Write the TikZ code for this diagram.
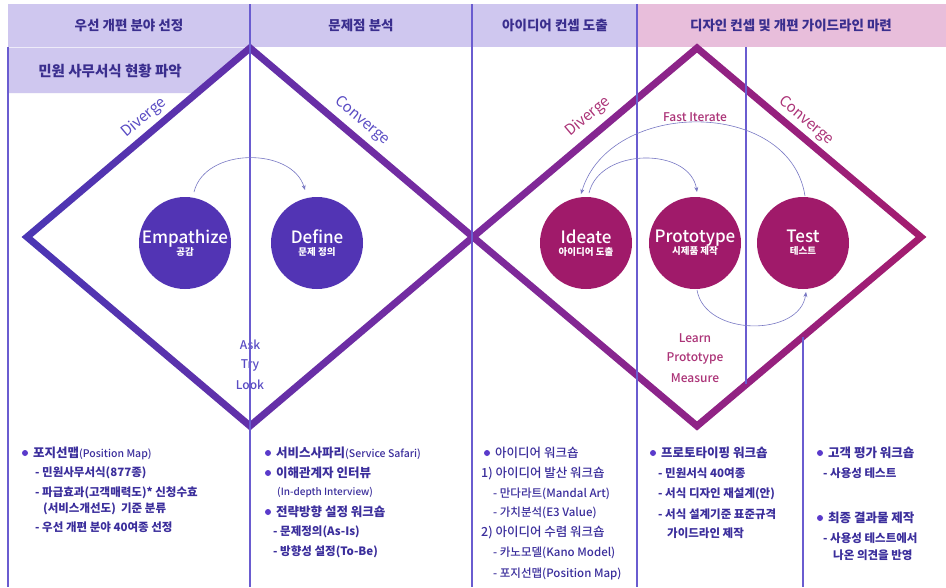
\documentclass[tikz,border=0pt]{standalone}
\usepackage{fontspec}
\setmainfont{Noto Sans CJK KR}
\newfontfamily\medf{Noto Sans CJK KR Medium}
\usetikzlibrary{arrows.meta}
\definecolor{hdrlav}{HTML}{CFC7EF}
\definecolor{hdrpink}{HTML}{E8BEDB}
\definecolor{hdrtext}{HTML}{3A2E8E}
\definecolor{lineind}{HTML}{6A5CD0}
\definecolor{dmA}{HTML}{4A36B4}
\definecolor{dmB}{HTML}{7A2A9E}
\definecolor{dmC}{HTML}{A41C6E}
\definecolor{circind}{HTML}{5234B4}
\definecolor{circmag}{HTML}{A01A6A}
\definecolor{arrowc}{HTML}{7878C4}
\definecolor{labind}{HTML}{5A4CC4}
\definecolor{labmag}{HTML}{AC3478}
\definecolor{bodyc}{HTML}{3B2E9C}
\definecolor{bulc}{HTML}{5A3ACB}
\begin{document}
\begin{tikzpicture}[x=1pt,y=-1pt,
  vline/.style={draw=lineind, line width=1.2pt},
  hdr/.style={text=hdrtext, font=\fontsize{13.5}{15}\selectfont\bfseries, inner sep=0},
  circ/.style={circle, minimum size=92pt, inner sep=0, text=white, align=center},
  conn/.style={draw=arrowc, line width=0.6pt, -{Stealth[length=5pt,width=4pt]}},
  phase/.style={font=\fontsize{15}{17}\selectfont, inner sep=0},
  lab/.style={font=\medf\fontsize{12}{14}\selectfont, inner sep=0},
  btxt/.style={anchor=west, inner sep=0, text=bodyc, font=\fontsize{11.5}{13}\selectfont\bfseries},
  mtxt/.style={anchor=west, inner sep=0, text=bodyc, font=\medf\fontsize{11.5}{13}\selectfont},
  bhead/.style={anchor=west, inner sep=0, text=bodyc, font=\fontsize{12.5}{14}\selectfont\bfseries},
  bul/.style={circle, fill=bulc, minimum size=6pt, inner sep=0},
]
\useasboundingbox (0,0) rectangle (946,587);
\fill[white] (0,0) rectangle (946,587);
% header
\fill[hdrlav] (8,4) rectangle (637,46.5);
\fill[hdrpink] (637,4) rectangle (946,46.5);
\fill[hdrlav] (8,47.5) -- (251,47.5) -- (197,93) -- (8,93) -- cycle;
\node[hdr] (h1) at (129,25) {우선 개편 분야 선정};
\node[hdr] (h2) at (361,25) {문제점 분석};
\node[hdr] (h3) at (555,25) {아이디어 컨셉 도출};
\node[hdr] (h4) at (791,25) {디자인 컨셉 및 개편 가이드라인 마련};
\node[hdr, font=\fontsize{14.5}{16}\selectfont\bfseries] (h5) at (110,71) {민원 사무서식 현황 파악};
% diamonds
\shade[left color=dmA, right color=dmB, even odd rule]
  (21.6,237) -- (250,43.4) -- (478.4,237) -- (250,430.6) -- cycle
  (32.4,237) -- (250,52.6) -- (467.6,237) -- (250,421.4) -- cycle;
\shade[left color=dmB, right color=dmC, even odd rule]
  (467.6,237) -- (697,43.4) -- (926.4,237) -- (697,430.6) -- cycle
  (478.4,237) -- (697,52.6) -- (915.6,237) -- (697,421.4) -- cycle;
% Ask Try Look
\node[lab, text=labind] (ask) at (250,345) {Ask};
\node[lab, text=labind] (try) at (250,365) {Try};
\node[lab, text=labind] (look) at (250,385) {Look};
% vertical lines
\coordinate (t1) at (250,4);   \coordinate (e1) at (250,587);
\coordinate (t2) at (472,4);   \coordinate (e2) at (472,587);
\coordinate (t3) at (637,4);   \coordinate (e3) at (637,587);
\coordinate (t4) at (746,47);  \coordinate (e4) at (746,384);
\coordinate (t5) at (803,337); \coordinate (e5) at (803,587);
\coordinate (t0) at (8,47);    \coordinate (e0) at (8,587);
\draw[vline] (t0) -- (e0);
\draw[vline] (t1) -- (e1);
\draw[vline] (t2) -- (e2);
\draw[vline] (t3) -- (e3);
\draw[vline] (t4) -- (e4);
\draw[vline] (t5) -- (e5);
% circles
\node[circ, fill=circind] (emp) at (185,243) {\medf\fontsize{17}{18}\selectfont Empathize\\[0pt]\bfseries\fontsize{9.5}{10}\selectfont 공감};
\node[circ, fill=circind] (def) at (317,243) {\medf\fontsize{17}{18}\selectfont Define\\[0pt]\bfseries\fontsize{9.5}{10}\selectfont 문제 정의};
\node[circ, fill=circmag] (ide) at (586,243) {\medf\fontsize{17}{18}\selectfont Ideate\\[0pt]\bfseries\fontsize{9.5}{10}\selectfont 아이디어 도출};
\node[circ, fill=circmag] (pro) at (695,243) {\medf\fontsize{17}{18}\selectfont Prototype\\[0pt]\bfseries\fontsize{9.5}{10}\selectfont 시제품 제작};
\node[circ, fill=circmag] (tst) at (803,243) {\medf\fontsize{17}{18}\selectfont Test\\[0pt]\bfseries\fontsize{9.5}{10}\selectfont 테스트};
% arrows
\coordinate (a1s) at (194,192); \coordinate (a1e) at (305,190);
\draw[conn] (a1s) .. controls (205,147) and (292,147) .. (a1e);
\coordinate (a2s) at (805,196); \coordinate (a2e) at (581,194);
\draw[conn] (a2s) .. controls (790,98) and (610,98) .. (a2e);
\coordinate (a3s) at (589,193); \coordinate (a3e) at (697,192);
\draw[conn] (a3s) .. controls (600,147) and (690,147) .. (a3e);
\coordinate (a4s) at (697,290); \coordinate (a4e) at (806,292);
\draw[conn] (a4s) .. controls (705,337) and (800,337) .. (a4e);
% phase labels
\node[phase, text=labind, rotate=40] (dv1) at (144,118) {Diverge};
\node[phase, text=labind, rotate=-40] (cv1) at (362,121) {Converge};
\node[phase, text=labmag, rotate=40] (dv2) at (588,117) {Diverge};
\node[phase, text=labmag, rotate=-40] (cv2) at (806,121) {Converge};
\node[lab, text=labmag] (fast) at (695,117) {Fast Iterate};
\node[lab, text=labmag] (learn) at (695,338) {Learn};
\node[lab, text=labmag] (proto) at (695,358) {Prototype};
\node[lab, text=labmag] (meas) at (695,378) {Measure};
% block 1
\node[bul] (b11) at (25,453) {};
\node[bhead] (t11) at (33,453) {포지선맵\medf\mdseries\fontsize{10.5}{12}\selectfont(Position Map)};
\node[btxt] (t12) at (35,473) {- 민원사무서식(877종)};
\node[btxt] (t13) at (35,493) {- 파급효과(고객매력도)* 신청수효};
\node[btxt] (t14) at (43,509) {(서비스개선도)\ \ 기준 분류};
\node[btxt] (t15) at (35,527) {- 우선 개편 분야 40여종 선정};
% block 2
\node[bul] (b21) at (268,453) {};
\node[bhead] (t21) at (276,453) {서비스사파리\medf\mdseries\fontsize{10.5}{12}\selectfont(Service Safari)};
\node[bul] (b22) at (268,473) {};
\node[bhead] (t22) at (276,473) {이해관계자 인터뷰};
\node[mtxt, font=\medf\fontsize{10}{12}\selectfont] (t23) at (277,492) {(In-depth Interview)};
\node[bul] (b23) at (268,512) {};
\node[bhead] (t24) at (276,512) {전략방향 설정 워크숍};
\node[btxt] (t25) at (273,532) {- 문제정의(As-Is)};
\node[btxt] (t26) at (273,552) {- 방향성 설정(To-Be)};
% block 3
\node[bul] (b31) at (487,453) {};
\node[mtxt, font=\medf\fontsize{12.5}{14}\selectfont] (t31) at (495,453) {아이디어 워크숍};
\node[mtxt, font=\medf\fontsize{12.5}{14}\selectfont] (t32) at (481,474) {1) 아이디어 발산 워크숍};
\node[mtxt] (t33) at (493,494) {- 만다라트(Mandal Art)};
\node[mtxt] (t34) at (493,513) {- 가치분석(E3 Value)};
\node[mtxt, font=\medf\fontsize{12.5}{14}\selectfont] (t35) at (481,533) {2) 아이디어 수렴 워크숍};
\node[mtxt] (t36) at (493,553) {- 카노모델(Kano Model)};
\node[mtxt] (t37) at (493,574) {- 포지선맵(Position Map)};
% block 4
\node[bul] (b41) at (653,453) {};
\node[bhead] (t41) at (661,453) {프로토타이핑 워크숍};
\node[btxt] (t42) at (658,473) {- 민원서식 40여종};
\node[btxt] (t43) at (658,494) {- 서식 디자인 재설계(안)};
\node[btxt] (t44) at (658,514) {- 서식 설계기준 표준규격};
\node[btxt] (t45) at (667,533) {가이드라인 제작};
% block 5
\node[bul] (b51) at (820,453) {};
\node[bhead] (t51) at (828,453) {고객 평가 워크숍};
\node[btxt] (t52) at (823,473) {- 사용성 테스트};
\node[bul] (b52) at (820,518) {};
\node[bhead] (t53) at (828,518) {최종 결과물 제작};
\node[btxt] (t54) at (823,538) {- 사용성 테스트에서};
\node[btxt] (t55) at (833,555) {나온 의견을 반영};
\end{tikzpicture}
\end{document}
